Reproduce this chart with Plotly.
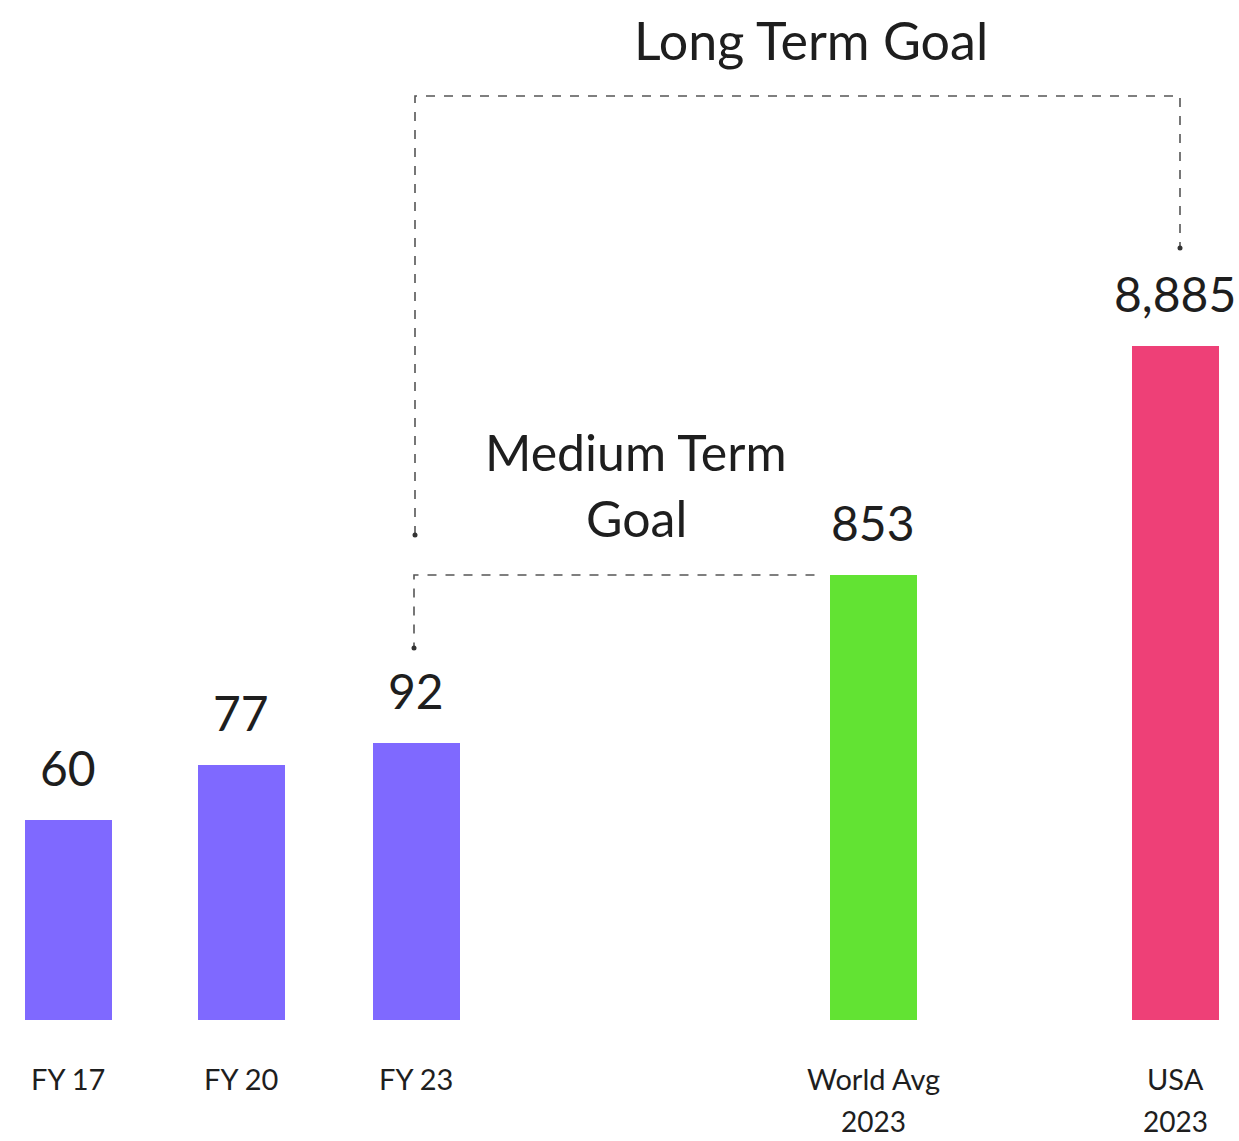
import plotly.graph_objects as go

# ---- data ----
categories = ["FY 17", "FY 20", "FY 23", "World Avg", "USA"]
sub_labels = ["", "", "", "2023", "2023"]
values = [60, 77, 92, 853, 8885]
value_labels = ["60", "77", "92", "853", "8,885"]
# bar heights as drawn in the picture (bars are illustrative, not to scale)
bar_heights = [200, 255, 277, 445, 674]
bar_colors = ["#7F69FF", "#7F69FF", "#7F69FF", "#62E333", "#EE4077"]

# ---- layout positions ----
W, H = 1239, 1141
baseline_px = 1020
x_pos = [68, 241, 416, 873, 1175]
bar_w = 87
FONT = "Lato"
TXT = "#1e1e1e"
LINE = "#555555"

fig = go.Figure()
fig.add_trace(go.Bar(
    x=x_pos, y=bar_heights, width=bar_w,
    marker=dict(color=bar_colors, line=dict(width=0)),
    customdata=values, hovertemplate="%{customdata}<extra></extra>",
    showlegend=False,
))

annotations = []
for x, h, lab in zip(x_pos, bar_heights, value_labels):
    annotations.append(dict(x=x, y=h, text=lab, showarrow=False, yanchor="middle",
                            yshift=53, font=dict(family=FONT, size=48, color=TXT)))
for x, c, s in zip(x_pos, categories, sub_labels):
    annotations.append(dict(x=x, y=-58, text=c, showarrow=False, yanchor="middle",
                            font=dict(family=FONT, size=29, color=TXT)))
    if s:
        annotations.append(dict(x=x, y=-101, text=s, showarrow=False, yanchor="middle",
                                font=dict(family=FONT, size=28, color=TXT)))

# connector geometry derived from bars
i23, iw, iu = 2, 3, 4
long_y = bar_heights[iu] + 250
lx0 = x_pos[i23] - 1
lx1 = x_pos[iu] + 5
long_left_end = bar_heights[iw] + 40
long_right_end = bar_heights[iu] + 98
med_y = bar_heights[iw]
med_x1 = x_pos[iw] - bar_w / 2 - 15
med_end = bar_heights[i23] + 95

dash = dict(color=LINE, width=1.6, dash="dash")
fig.add_trace(go.Scatter(x=[lx0, lx0, lx1, lx1],
                         y=[long_left_end, long_y, long_y, long_right_end],
                         mode="lines", line=dash, showlegend=False, hoverinfo="skip"))
fig.add_trace(go.Scatter(x=[med_x1, lx0 - 1, lx0 - 1], y=[med_y, med_y, med_end],
                         mode="lines", line=dash, showlegend=False, hoverinfo="skip"))
fig.add_trace(go.Scatter(x=[lx0, lx1, lx0 - 1], y=[long_left_end, long_right_end, med_end],
                         mode="markers", marker=dict(color="#333333", size=5),
                         showlegend=False, hoverinfo="skip"))

annotations.append(dict(x=811, y=long_y + 56, text="Long Term Goal",
                        showarrow=False, yanchor="middle",
                        font=dict(family=FONT, size=52, color=TXT)))
annotations.append(dict(x=636, y=med_y + 123, text="Medium Term", showarrow=False,
                        yanchor="middle", font=dict(family=FONT, size=50, color=TXT)))
annotations.append(dict(x=636, y=med_y + 57, text="Goal", showarrow=False,
                        yanchor="middle", font=dict(family=FONT, size=50, color=TXT)))

fig.update_layout(
    width=W, height=H,
    margin=dict(l=0, r=0, t=0, b=0),
    paper_bgcolor="white", plot_bgcolor="white",
    xaxis=dict(range=[0, W], visible=False, fixedrange=True),
    yaxis=dict(range=[-(H - baseline_px), baseline_px], visible=False, fixedrange=True),
    annotations=annotations,
    bargap=0,
)

fig.write_html("out.html")
